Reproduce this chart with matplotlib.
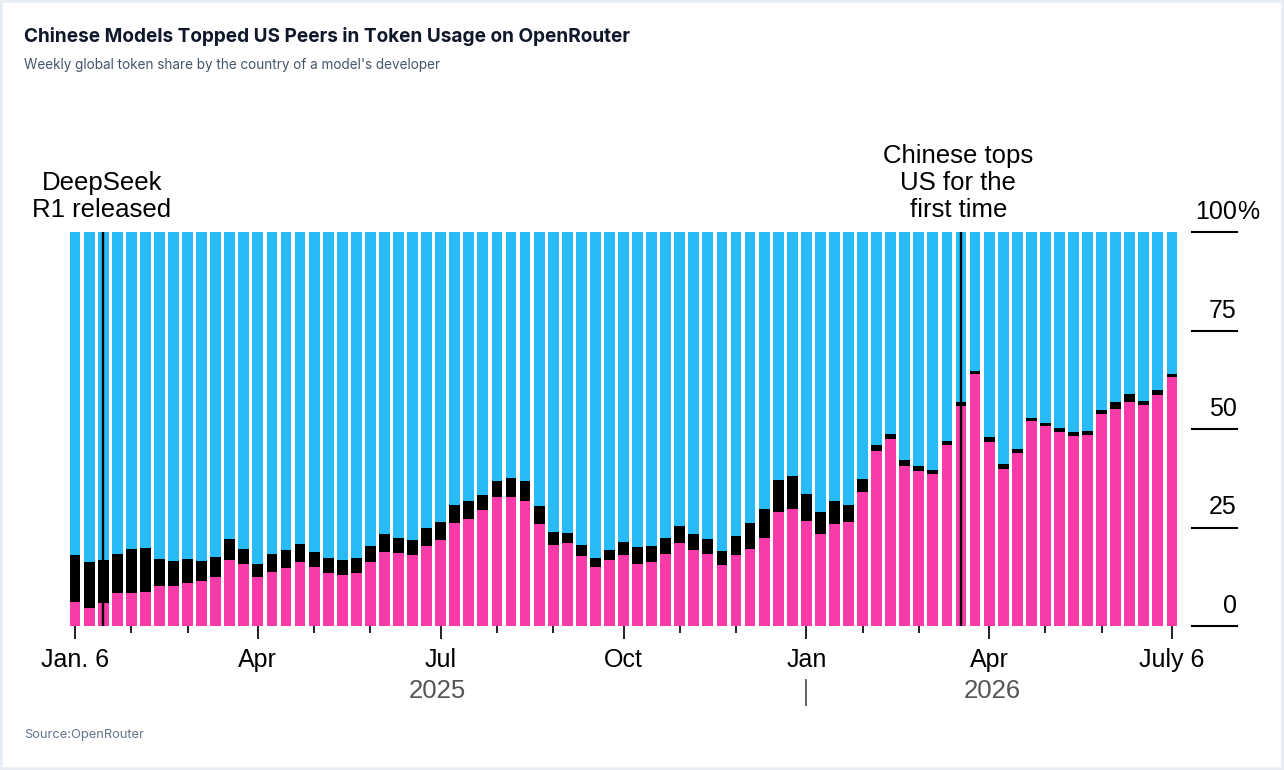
import matplotlib
matplotlib.use("Agg")
import matplotlib.pyplot as plt
from matplotlib.transforms import blended_transform_factory, offset_copy
from matplotlib.patches import Rectangle
from matplotlib.lines import Line2D
import numpy as np

# ---------------- data (weekly share, %) ----------------
week_start = "2025-01-06"
china = [6.2, 4.6, 5.9, 8.3, 8.4, 8.6, 10.2, 10.1, 10.8, 11.4,
         12.4, 16.8, 15.8, 12.4, 13.7, 14.7, 16.2, 14.9, 13.5, 12.9,
         13.5, 16.2, 18.8, 18.5, 18.0, 20.4, 21.8, 26.1, 27.1, 29.4,
         32.7, 32.8, 31.7, 26.0, 20.6, 21.0, 17.8, 15.1, 16.8, 17.9,
         15.7, 16.2, 18.4, 21.1, 19.3, 18.2, 15.4, 17.9, 19.5, 22.3,
         28.9, 29.8, 26.6, 23.4, 25.8, 26.3, 34.0, 44.3, 47.4, 40.7,
         39.4, 38.7, 46.0, 55.9, 64.0, 46.7, 39.9, 44.0, 52.0, 50.7,
         49.2, 48.1, 48.4, 53.8, 55.2, 56.9, 56.2, 58.7, 63.2]
other = [11.9, 11.7, 10.9, 10.0, 11.2, 11.1, 6.7, 6.4, 6.1, 5.1,
         5.1, 5.3, 3.7, 3.3, 4.6, 4.7, 4.6, 3.8, 3.8, 3.9,
         3.8, 4.1, 4.6, 3.9, 3.9, 4.5, 4.6, 4.6, 4.7, 3.8,
         4.0, 4.8, 5.1, 4.5, 3.3, 2.6, 2.8, 2.2, 2.4, 3.4,
         4.4, 4.1, 4.0, 4.2, 4.1, 3.8, 3.7, 4.9, 6.6, 7.5,
         8.2, 8.3, 7.0, 5.5, 5.9, 4.4, 3.2, 1.6, 1.3, 1.5,
         1.1, 1.0, 1.0, 1.0, 0.8, 1.3, 1.2, 1.0, 0.9, 0.9,
         1.0, 1.2, 1.1, 0.9, 1.7, 2.0, 1.0, 1.1, 0.8]
us = [81.9, 83.7, 83.2, 81.7, 80.4, 80.3, 83.1, 83.5, 83.1, 83.5,
      82.5, 77.9, 80.5, 84.3, 81.7, 80.6, 79.2, 81.3, 82.7, 83.2,
      82.7, 79.7, 76.6, 77.6, 78.1, 75.1, 73.6, 69.3, 68.2, 66.8,
      63.3, 62.4, 63.2, 69.5, 76.1, 76.4, 79.4, 82.7, 80.8, 78.7,
      79.9, 79.7, 77.6, 74.7, 76.6, 78.0, 80.9, 77.2, 73.9, 70.2,
      62.9, 61.9, 66.4, 71.1, 68.3, 69.3, 62.8, 54.1, 51.3, 57.8,
      59.5, 60.3, 53.0, 43.1, 35.2, 52.0, 58.9, 55.0, 47.1, 48.4,
      49.8, 50.7, 50.5, 45.3, 43.1, 41.1, 42.8, 40.2, 36.0]

major_ticks = [0, 13, 26, 39, 52, 65, 78]
major_labels = ["Jan. 6", "Apr", "Jul", "Oct", "Jan", "Apr", "July 6"]
minor_ticks = [4, 8, 17, 21, 30, 34, 43, 47, 56, 60, 69, 73]
year_labels = ["2025", "2026"]
year_pos = [25.8, 65.2]
year_sep = 52
events = [2, 63]
event_text = ["DeepSeek\nR1 released", "Chinese tops\nUS for the\nfirst time"]
event_text_x = [1.9, 62.8]
y_ticks = [0, 25, 50, 75, 100]

PINK = "#F93BA9"
BLUE = "#29BAF8"
BLACK = "#000000"
FONT = "Liberation Sans"

W, H = 1284, 770
fig = plt.figure(figsize=(W / 100, H / 100), dpi=100)
fig.patch.set_facecolor("white")
ax = fig.add_axes([68 / W, 144 / H, (1179 - 68) / W, 394 / H])

x = np.arange(len(china))
ch = np.array(china)
ot = np.array(other)
bw = 0.77
ax.bar(x, ch, width=bw, color=PINK, linewidth=0)
ax.bar(x, ot, bottom=ch, width=bw, color=BLACK, linewidth=0)
ax.bar(x, us, bottom=ch + ot, width=bw, color=BLUE, linewidth=0)

ax.set_xlim(-0.5, len(china) - 0.5)
ax.set_ylim(0, 100)
for s in ax.spines.values():
    s.set_visible(False)
ax.set_yticks([])
ax.set_xticks(major_ticks)
ax.set_xticklabels(major_labels, fontfamily=FONT, fontsize=18)
ax.set_xticks(minor_ticks, minor=True)
ax.tick_params(axis="x", which="major", length=9.5, width=1.4, color="#222222", pad=6.5)
ax.tick_params(axis="x", which="minor", length=5, width=1.4, color="#222222")
ax.patch.set_alpha(0)

# event lines + annotations
for ev, tx, txt in zip(events, event_text_x, event_text):
    ax.plot([ev, ev], [0, 100], color="black", lw=1.7, solid_capstyle="butt", zorder=5)
    tr = offset_copy(ax.transData, fig=fig, y=10, units="dots")
    ax.text(tx, 100, txt, transform=tr, ha="center", va="bottom",
            fontfamily=FONT, fontsize=18.5, linespacing=1.16, color="black")

# right-side y labels
tr_fy = blended_transform_factory(fig.transFigure, ax.transData)
tr_lab = offset_copy(tr_fy, fig=fig, y=13, units="dots")
for v in y_ticks:
    fig.add_artist(Line2D([1192 / W, 1237 / W], [v, v], transform=tr_fy,
                          color="black", lw=1.5))
    ax.text(1237 / W, v, str(v), transform=tr_lab, ha="right", va="baseline",
            fontfamily=FONT, fontsize=18, color="black", clip_on=False)
    if v == 100:
        ax.text(1237 / W, v, "%", transform=tr_lab, ha="left", va="baseline",
                fontfamily=FONT, fontsize=18, color="black", clip_on=False)

# year labels
tr_xf = blended_transform_factory(ax.transData, fig.transFigure)
for lab, p in zip(year_labels, year_pos):
    ax.text(p, 1 - 691 / H, lab, transform=tr_xf, ha="center", va="center",
            fontfamily=FONT, fontsize=18.5, color="#555555", clip_on=False)
fig.add_artist(Line2D([year_sep, year_sep], [1 - 680 / H, 1 - 705 / H],
                      transform=tr_xf, color="#555555", lw=1.3))

# titles
fig.text(24 / W, 1 - 36 / H, "Chinese Models Topped US Peers in Token Usage on OpenRouter",
         fontfamily="Inter", fontweight="bold", fontsize=13.7, color="#0f172a", va="center")
fig.text(24 / W, 1 - 65 / H, "Weekly global token share by the country of a model's developer",
         fontfamily="Inter", fontsize=9.75, color="#475569", va="center")
fig.text(24 / W, 1 - 735 / H, "Source:OpenRouter",
         fontfamily="Inter", fontsize=9.3, color="#64748b", va="center")

fig.add_artist(Rectangle((0, 0), 1, 1, transform=fig.transFigure, fill=False,
                         edgecolor="#e8edf3", lw=4))

fig.savefig("out.png", dpi=100)
